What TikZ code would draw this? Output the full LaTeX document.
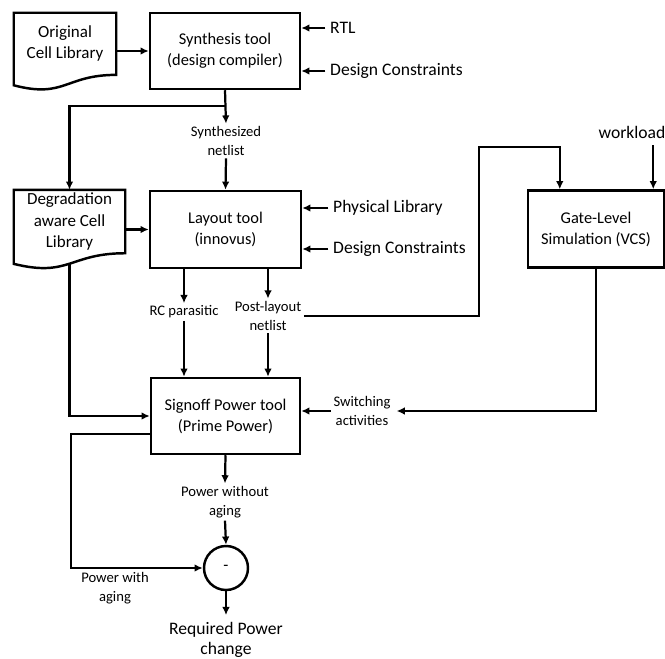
\documentclass[tikz,border=0pt]{standalone}
\usepackage{fontspec}
\setmainfont{Carlito}
\usetikzlibrary{positioning, calc, arrows.meta}

\newcommand{\boxtxt}{\fontsize{14}{18}\selectfont}
\newcommand{\doctxt}{\fontsize{14.5}{18}\selectfont}
\newcommand{\lbltxt}{\fontsize{12.5}{16.5}\selectfont}
\newcommand{\bigtxt}{\fontsize{15}{17}\selectfont}

% document shape with a wavy bottom, drawn round a plain node
\newcommand{\docframe}[1]{%
  \draw[line width=2.1pt] (#1.north west) -- (#1.north east) -- (#1.south east)
    .. controls (#1.south) and ($(#1.north)!1.384!(#1.south)$)
    .. ($(#1.north west)!1.1675!(#1.south west)$) -- cycle;
  \coordinate (#1-base) at ($(#1.north)!1.164!(#1.south)$);}

\tikzset{
  box/.style={draw, line width=2.1pt, align=center, inner sep=0pt, font=\boxtxt},
  doc/.style={align=center, inner sep=0pt, font=\doctxt},
  lbl/.style={align=center, inner sep=2pt, font=\lbltxt},
  biglbl/.style={align=center, inner sep=0pt, font=\bigtxt},
  conn/.style={line width=1.9pt, -{Latex[length=7pt,width=6.5pt]}}
}

\begin{document}
\begin{tikzpicture}[x=0.03cm, y=-0.03cm]
    \useasboundingbox (0,0) rectangle (665,658);

    \node[doc, minimum width=3.06cm, minimum height=1.85cm] (orig) at (65,43.8) {Original\\Cell Library};
    \docframe{orig}
    \node[box, minimum width=4.5cm, minimum height=2.28cm] (synth) at (225,51) {Synthesis tool\\(design compiler)};
    \node[biglbl, anchor=west] (rtl) at (330,28) {RTL};
    \node[biglbl, anchor=west] (dc1) at (330,71) {Design Constraints};
    \node[lbl] (synnet) at (226,141) {Synthesized\\netlist};

    \node[doc, minimum width=3.33cm, minimum height=1.89cm] (deg) at (69.5,221.5) {Degradation\\aware Cell\\Library};
    \docframe{deg}
    \node[box, minimum width=4.53cm, minimum height=2.31cm] (layout) at (225.5,229.5) {Layout tool\\(innovus)};
    \node[biglbl, anchor=west] (phys) at (333,208) {Physical Library};
    \node[biglbl, anchor=west] (dc2) at (333,249) {Design Constraints};
    \node[lbl] (rc) at (184,312) {RC parasitic};
    \node[lbl] (post) at (268,316) {Post-layout\\netlist};

    \node[biglbl] (wl) at (632,132) {workload};
    \node[box, minimum width=4.08cm, minimum height=2.31cm] (vcs) at (596,229) {Gate-Level\\Simulation (VCS)};

    \node[box, minimum width=4.47cm, minimum height=2.28cm] (signoff) at (225.5,416) {Signoff Power tool\\(Prime Power)};
    \node[lbl] (sw) at (362,411) {Switching\\activities};
    \node[lbl] (pwo) at (225,502) {Power without\\aging};
    \node[circle, draw, line width=2.1pt, minimum size=1.32cm, inner sep=0pt, font=\boxtxt] (diff) at (226,568) {-};
    \node[lbl] (pw) at (115,588) {Power with\\aging};
    \node[biglbl] (req) at (226,640) {Required Power\\change};

    \coordinate (split) at ($(synth.south)+(0,16)$);
    \coordinate (up) at (479,147);
    \coordinate (vcsin) at ([xshift=0.99cm]vcs.north west);
    \coordinate (wlin) at ([xshift=-0.36cm]vcs.north east);
    \coordinate (pwstart) at ([yshift=-0.54cm]signoff.west);
    \coordinate (pwcorner) at (71,568);

    \draw[conn] (orig.east |- synth.west) -- (synth.west);
    \draw[conn, shorten <=4pt] (rtl.west) -- (rtl -| synth.east);
    \draw[conn, shorten <=4pt] (dc1.west) -- (dc1 -| synth.east);
    \draw[conn] (synth.south) -- (synnet.north);
    \draw[conn] (split) -| (deg.north);
    \draw[conn] (synnet.south) -- (layout.north);
    \draw[conn] (deg.east |- layout.west) -- (layout.west);
    \draw[conn, shorten <=4pt] (phys.west) -- (phys -| layout.east);
    \draw[conn, shorten <=4pt] (dc2.west) -- (dc2 -| layout.east);
    \draw[conn] (rc.north |- layout.south) -- (rc.north);
    \draw[conn] (post.north |- layout.south) -- (post.north);
    \draw[conn] (rc.south) -- (rc.south |- signoff.north);
    \draw[conn] (post.south) -- (post.south |- signoff.north);
    \draw[conn] (post.east) -| (up) -| (vcsin);
    \draw[conn, shorten <=6pt] (wl.south -| wlin) -- (wlin);
    \draw[conn, shorten >=3pt] (vcs.south) |- (sw.east);
    \draw[conn] (sw.west) -- (sw.west -| signoff.east);
    \draw[conn] (deg-base) |- (signoff.west);
    \draw[conn] (signoff.south) -- (pwo.north);
    \draw[conn] (pwo.south) -- (diff.north);
    \draw[conn] (pwstart) -| (pwcorner) -- (diff.west);
    \draw[conn, shorten >=6pt] (diff.south) -- (req.north);
\end{tikzpicture}
\end{document}
